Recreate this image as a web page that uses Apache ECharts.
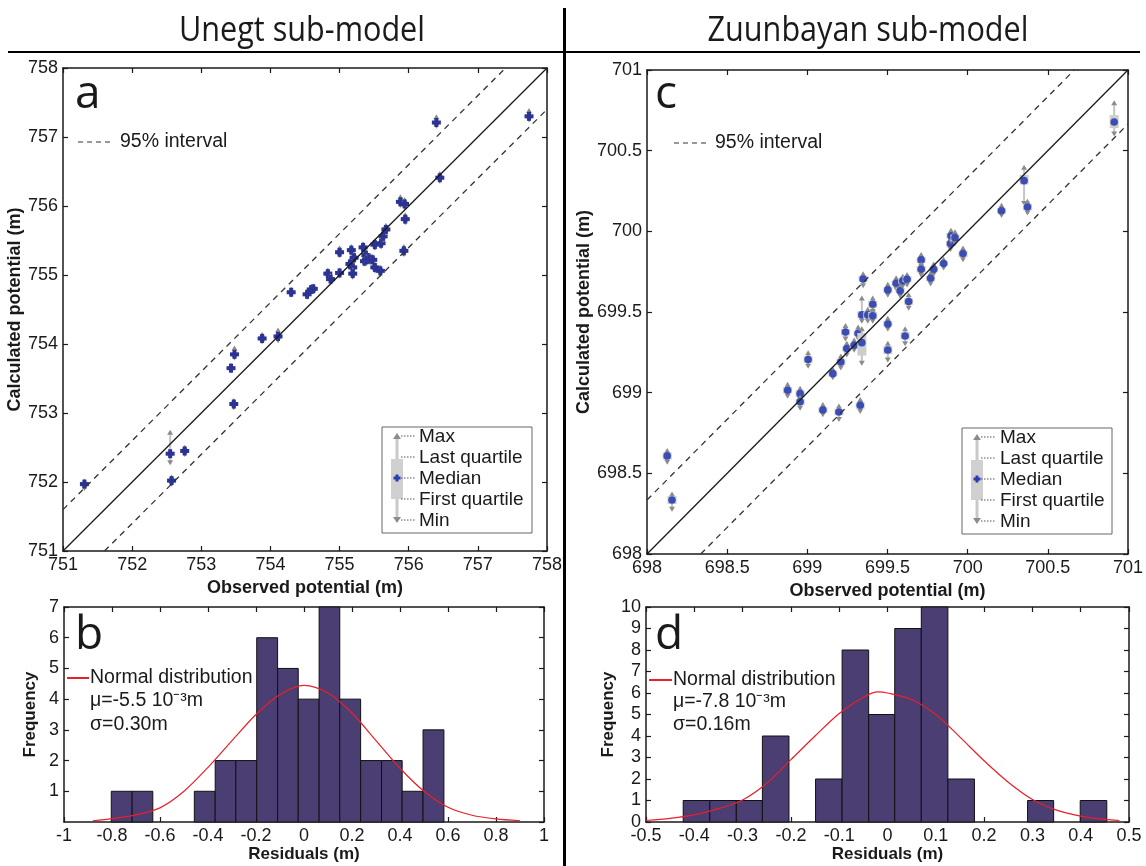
<!DOCTYPE html>
<html lang="en">
<head>
<meta charset="UTF-8">
<title>Unegt / Zuunbayan sub-models</title>
<style>html,body{margin:0;padding:0;background:#fff}</style>
</head>
<body>
<div id="main" style="width:1146px;height:866px"></div>
<script src="https://cdn.jsdelivr.net/npm/echarts@6/dist/echarts.min.js"></script>
<script>
// ---- Unegt sub-model: observed vs calculated (median, min, max) ----
const unegtObs = [751.31, 752.55, 752.57, 752.76, 753.47, 753.43, 753.48, 753.88, 754.11, 754.30,
  754.53, 754.59, 754.62, 754.83, 754.87, 755.00, 755.00, 755.15, 755.17, 755.19,
  755.19, 755.21, 755.34, 755.36, 755.38, 755.39, 755.44, 755.48, 755.51, 755.51,
  755.59, 755.60, 755.63, 755.67, 755.88, 755.94, 755.95, 755.93, 756.45, 756.40, 757.74];
const unegtMed = [751.97, 752.41, 752.02, 752.45, 753.13, 753.65, 753.85, 754.08, 754.11, 754.75,
  754.72, 754.79, 754.80, 755.02, 754.94, 755.33, 755.03, 755.16, 755.36, 755.11,
  755.02, 755.25, 755.40, 755.20, 755.29, 755.22, 755.23, 755.22, 755.44, 755.11,
  755.06, 755.46, 755.56, 755.66, 756.06, 756.03, 755.81, 755.35, 756.41, 757.21, 757.30];
const unegtMin = [751.90, 752.27, 751.96, 752.39, 753.07, 753.60, 753.79, 754.02, 754.04, 754.70,
  754.67, 754.74, 754.75, 754.96, 754.89, 755.27, 754.98, 755.10, 755.30, 755.05,
  754.96, 755.19, 755.34, 755.15, 755.23, 755.16, 755.17, 755.16, 755.38, 755.05,
  755.00, 755.40, 755.50, 755.60, 756.00, 755.97, 755.75, 755.29, 756.35, 757.15, 757.24];
const unegtMax = [752.02, 752.73, 752.08, 752.51, 753.19, 753.70, 753.95, 754.15, 754.21, 754.80,
  754.77, 754.84, 754.85, 755.08, 755.00, 755.40, 755.08, 755.22, 755.42, 755.17,
  755.08, 755.31, 755.46, 755.26, 755.35, 755.28, 755.29, 755.28, 755.50, 755.17,
  755.12, 755.52, 755.62, 755.73, 756.14, 756.10, 755.88, 755.42, 756.48, 757.30, 757.39];
const unegtIdentity = [[751, 751], [758, 758]];
const unegtUpper = [[751, 751.6], [757.4, 758]];
const unegtLower = [[751.6, 751], [758, 757.4]];
const unegtTicks = [751, 752, 753, 754, 755, 756, 757, 758];

// ---- Zuunbayan sub-model ----
const zuunObs = [698.126, 698.156, 698.877, 698.955, 698.955, 699.005, 699.097, 699.159, 699.197, 699.209,
  699.238, 699.246, 699.292, 699.317, 699.330, 699.340, 699.340, 699.348, 699.377, 699.408,
  699.408, 699.502, 699.502, 699.502, 699.554, 699.579, 699.595, 699.610, 699.622, 699.632,
  699.710, 699.710, 699.769, 699.788, 699.850, 699.893, 699.896, 699.921, 699.971, 700.211,
  700.352, 700.373, 700.914];
const zuunMed = [698.608, 698.335, 699.015, 698.994, 698.944, 699.205, 698.893, 699.118, 698.880, 699.190,
  699.376, 699.273, 699.294, 699.368, 698.922, 699.482, 699.310, 699.705, 699.482, 699.548,
  699.476, 699.426, 699.264, 699.637, 699.678, 699.631, 699.693, 699.351, 699.703, 699.565,
  699.823, 699.765, 699.709, 699.765, 699.800, 699.924, 699.973, 699.961, 699.862, 700.128,
  700.314, 700.151, 700.678];
const zuunMin = [698.565, 698.275, 698.975, 698.955, 698.900, 699.160, 698.860, 699.090, 698.830, 699.150,
  699.330, 699.230, 699.260, 699.330, 698.880, 699.440, 699.180, 699.660, 699.440, 699.500,
  699.440, 699.390, 699.200, 699.600, 699.640, 699.595, 699.655, 699.300, 699.665, 699.520,
  699.780, 699.725, 699.670, 699.730, 699.770, 699.885, 699.935, 699.920, 699.820, 700.095,
  700.170, 700.110, 700.600];
const zuunMax = [698.645, 698.375, 699.055, 699.030, 698.975, 699.250, 698.930, 699.150, 698.920, 699.230,
  699.420, 699.310, 699.330, 699.410, 698.960, 699.590, 699.400, 699.740, 699.520, 699.590,
  699.520, 699.465, 699.310, 699.675, 699.715, 699.665, 699.725, 699.400, 699.735, 699.610,
  699.860, 699.800, 699.745, 699.800, 699.830, 699.960, 700.010, 700.000, 699.900, 700.165,
  700.400, 700.190, 700.800];
const zuunQ1 = [698.585, 698.310, 698.995, 698.975, 698.925, 699.185, 698.875, 699.100, 698.860, 699.170,
  699.355, 699.255, 699.275, 699.350, 698.900, 699.460, 699.230, 699.685, 699.460, 699.525,
  699.455, 699.410, 699.240, 699.620, 699.660, 699.615, 699.675, 699.330, 699.685, 699.545,
  699.805, 699.745, 699.690, 699.750, 699.785, 699.905, 699.955, 699.940, 699.840, 700.110,
  700.290, 700.130, 700.640];
const zuunQ3 = [698.630, 698.360, 699.035, 699.015, 698.960, 699.225, 698.910, 699.135, 698.900, 699.210,
  699.395, 699.290, 699.310, 699.385, 698.940, 699.505, 699.370, 699.725, 699.500, 699.570,
  699.500, 699.445, 699.290, 699.655, 699.695, 699.650, 699.710, 699.375, 699.720, 699.585,
  699.840, 699.785, 699.725, 699.780, 699.815, 699.940, 699.990, 699.980, 699.880, 700.145,
  700.350, 700.170, 700.720];
const zuunIdentity = [[698, 698], [701, 701]];
const zuunUpper = [[698, 698.335], [700.665, 701]];
const zuunLower = [[698.335, 698], [701, 700.665]];
const zuunTicks = [698, 698.5, 699, 699.5, 700, 700.5, 701];

// ---- residual histograms ----
const unegtEdges = [-0.803, -0.716, -0.630, -0.543, -0.457, -0.370, -0.284, -0.197, -0.110,
  -0.024, 0.063, 0.149, 0.236, 0.323, 0.409, 0.496, 0.583];
const unegtCounts = [1, 1, 0, 0, 1, 2, 2, 6, 5, 4, 7, 4, 2, 2, 1, 3];
const unegtCurveX = [-0.88, -0.8, -0.7, -0.6, -0.5, -0.4, -0.3, -0.2, -0.1, 0, 0.1, 0.2, 0.3, 0.4, 0.5, 0.6, 0.7, 0.8, 0.9];
const unegtCurveY = [0.04, 0.11, 0.23, 0.46, 1.0, 1.78, 2.65, 3.5, 4.15, 4.45, 4.2, 3.55, 2.65, 1.75, 1.0, 0.48, 0.22, 0.1, 0.04];

const zuunEdges = [-0.423, -0.368, -0.313, -0.259, -0.204, -0.149, -0.094, -0.039, 0.015,
  0.070, 0.125, 0.180, 0.235, 0.290, 0.344, 0.399, 0.454];
const zuunCounts = [1, 1, 1, 4, 0, 2, 8, 5, 9, 10, 2, 0, 0, 1, 0, 1];
const zuunCurveX = [-0.5, -0.45, -0.4, -0.35, -0.3, -0.25, -0.2, -0.15, -0.1, -0.05, -0.02, 0, 0.05, 0.1, 0.15, 0.2, 0.25, 0.3, 0.35, 0.4, 0.45, 0.48];
const zuunCurveY = [0.07, 0.17, 0.33, 0.62, 1.02, 1.8, 2.9, 4.0, 5.05, 5.8, 6.05, 6.0, 5.7, 5.0, 3.95, 2.85, 1.85, 1.05, 0.55, 0.27, 0.12, 0.07];

const unegtResTicks = [-1, -0.8, -0.6, -0.4, -0.2, 0, 0.2, 0.4, 0.6, 0.8, 1];
const unegtFreqTicks = [0, 1, 2, 3, 4, 5, 6, 7];
const zuunResTicks = [-0.5, -0.4, -0.3, -0.2, -0.1, 0, 0.1, 0.2, 0.3, 0.4, 0.5];
const zuunFreqTicks = [0, 1, 2, 3, 4, 5, 6, 7, 8, 9, 10];

const FONT = '"Liberation Sans", Arial, sans-serif';
const INK = '#1a1a1a';

function ax(grid, ticks, interval, position, labels, name, nameGap, nameSize, extra) {
  return Object.assign({
    type: 'value', gridIndex: grid, position: position,
    min: ticks[0], max: ticks[ticks.length - 1], interval: interval,
    axisLine: { show: true, onZero: false, lineStyle: { color: INK, width: 1.5 } },
    axisTick: { show: true, inside: true, length: 5, lineStyle: { color: INK, width: 1.2 } },
    splitLine: { show: false },
    axisLabel: { show: labels, color: INK, fontSize: 18, fontFamily: FONT, margin: 5 },
    name: name || '', nameLocation: 'middle', nameGap: nameGap || 0,
    nameTextStyle: { fontWeight: 'bold', fontSize: nameSize || 17, color: INK, fontFamily: FONT }
  }, extra || {});
}

function pointItem(withBox) {
  return function (params, api) {
    const x = api.value(0);
    const pm = api.coord([x, api.value(1)]);
    const plo = api.coord([x, api.value(2)]);
    const phi = api.coord([x, api.value(3)]);
    const kids = [
      { type: 'line', shape: { x1: phi[0], y1: phi[1], x2: plo[0], y2: plo[1] },
        style: { stroke: '#c4c4c4', lineWidth: 2 } },
      { type: 'polygon', shape: { points: [[phi[0] - 3, phi[1] + 3], [phi[0] + 3, phi[1] + 3], [phi[0], phi[1] - 2]] },
        style: { fill: '#8c8c8c' } },
      { type: 'polygon', shape: { points: [[plo[0] - 3, plo[1] - 3], [plo[0] + 3, plo[1] - 3], [plo[0], plo[1] + 2]] },
        style: { fill: '#8c8c8c' } }
    ];
    if (withBox) {
      const p1 = api.coord([x, api.value(4)]);
      const p3 = api.coord([x, api.value(5)]);
      kids.push({ type: 'rect', shape: { x: pm[0] - 4.5, y: p3[1], width: 9, height: p1[1] - p3[1] },
        style: { fill: '#cdcdcd' } });
      kids.push({ type: 'circle', shape: { cx: pm[0], cy: pm[1], r: 3.8 }, style: { fill: '#3a4db4' } });
    } else {
      kids.push({ type: 'rect', shape: { x: pm[0] - 4.5, y: pm[1] - 2, width: 9, height: 4 }, style: { fill: '#2b3394' } });
      kids.push({ type: 'rect', shape: { x: pm[0] - 2, y: pm[1] - 4.5, width: 4, height: 9 }, style: { fill: '#2b3394' } });
    }
    return { type: 'group', children: kids };
  };
}

function barItem(params, api) {
  const c = api.value(2);
  if (!c) return null;
  const a = api.coord([api.value(0), c]);
  const b = api.coord([api.value(1), 0]);
  return { type: 'rect', shape: { x: a[0], y: a[1], width: b[0] - a[0], height: b[1] - a[1] },
    style: { fill: '#4a3e72', stroke: '#111', lineWidth: 1 } };
}

const unegtPts = unegtObs.map((v, i) => [v, unegtMed[i], unegtMin[i], unegtMax[i]]);
const zuunPts = zuunObs.map((v, i) => [v, zuunMed[i], zuunMin[i], zuunMax[i], zuunQ1[i], zuunQ3[i]]);
const unegtBins = unegtCounts.map((c, i) => [unegtEdges[i], unegtEdges[i + 1], c]);
const zuunBins = zuunCounts.map((c, i) => [zuunEdges[i], zuunEdges[i + 1], c]);

const dashed = { color: '#333', width: 1.3, type: [6, 5] };

function legendBox(x0, y0, sx, tx) {
  const rows = ['Max', 'Last quartile', 'Median', 'First quartile', 'Min'];
  const ys = [y0 + 9, y0 + 30, y0 + 51, y0 + 72, y0 + 93];
  const els = [
    { type: 'rect', shape: { x: x0, y: y0, width: 150, height: 106 }, style: { fill: '#fff', stroke: '#666', lineWidth: 1 } },
    { type: 'line', shape: { x1: sx, y1: ys[0], x2: sx, y2: ys[4] }, style: { stroke: '#c8c8c8', lineWidth: 3 } },
    { type: 'rect', shape: { x: sx - 6, y: ys[1] + 2, width: 12, height: ys[3] - ys[1] - 2 }, style: { fill: '#d0d0d0' } },
    { type: 'polygon', shape: { points: [[sx - 4, ys[0] + 3], [sx + 4, ys[0] + 3], [sx, ys[0] - 3]] }, style: { fill: '#8c8c8c' } },
    { type: 'polygon', shape: { points: [[sx - 4, ys[4] - 3], [sx + 4, ys[4] - 3], [sx, ys[4] + 3]] }, style: { fill: '#8c8c8c' } },
    { type: 'rect', shape: { x: sx - 3.5, y: ys[2] - 1.5, width: 7, height: 3 }, style: { fill: '#2b3cae' } },
    { type: 'rect', shape: { x: sx - 1.5, y: ys[2] - 3.5, width: 3, height: 7 }, style: { fill: '#2b3cae' } }
  ];
  rows.forEach((r, i) => {
    els.push({ type: 'line', shape: { x1: sx + 4, y1: ys[i], x2: tx - 4, y2: ys[i] },
      style: { stroke: '#555', lineWidth: 1, lineDash: [1.5, 1.5] } });
    els.push({ type: 'text', x: tx, y: ys[i] + 1, style: { text: r, font: '19px ' + FONT, fill: INK, verticalAlign: 'middle', align: 'left' } });
  });
  return els;
}

function txt(x, y, s, font, extra) {
  return Object.assign({ type: 'text', x: x, y: y, style: { text: s, font: font, fill: INK, verticalAlign: 'middle', align: 'left' } }, extra || {});
}

const chart = echarts.init(document.getElementById('main'));

const option = {
  animation: false,
  backgroundColor: '#fff',
  grid: [
    { left: 63, top: 68, width: 484, height: 483 },
    { left: 647, top: 70, width: 482, height: 484 },
    { left: 64, top: 607, width: 480, height: 215 },
    { left: 646, top: 607, width: 483, height: 215 }
  ],
  xAxis: [
    ax(0, unegtTicks, 1, 'bottom', true, 'Observed potential (m)', 22, 18),
    ax(0, unegtTicks, 1, 'top', false),
    ax(1, zuunTicks, 0.5, 'bottom', true, 'Observed potential (m)', 20, 18),
    ax(1, zuunTicks, 0.5, 'top', false),
    ax(2, unegtResTicks, 0.2, 'bottom', true, 'Residuals (m)', 22),
    ax(2, unegtResTicks, 0.2, 'top', false),
    ax(3, zuunResTicks, 0.1, 'bottom', true, 'Residuals (m)', 22),
    ax(3, zuunResTicks, 0.1, 'top', false)
  ],
  yAxis: [
    ax(0, unegtTicks, 1, 'left', true, 'Calculated potential (m)', 28, 18),
    ax(0, unegtTicks, 1, 'right', false),
    ax(1, zuunTicks, 0.5, 'left', true, 'Calculated potential (m)', 40, 18),
    ax(1, zuunTicks, 0.5, 'right', false),
    ax(2, unegtFreqTicks, 1, 'left', true, 'Frequency', 25, 17,
      { axisLabel: { color: INK, fontSize: 18, fontFamily: FONT, margin: 5, showMinLabel: false } }),
    ax(2, unegtFreqTicks, 1, 'right', false),
    ax(3, zuunFreqTicks, 1, 'left', true, 'Frequency', 29),
    ax(3, zuunFreqTicks, 1, 'right', false)
  ],
  series: [
    { type: 'line', xAxisIndex: 0, yAxisIndex: 0, data: unegtIdentity, showSymbol: false, lineStyle: { color: INK, width: 1.3 } },
    { type: 'line', xAxisIndex: 0, yAxisIndex: 0, data: unegtUpper, showSymbol: false, lineStyle: dashed },
    { type: 'line', xAxisIndex: 0, yAxisIndex: 0, data: unegtLower, showSymbol: false, lineStyle: dashed },
    { type: 'custom', xAxisIndex: 0, yAxisIndex: 0, data: unegtPts, renderItem: pointItem(false), encode: { x: 0, y: 1 }, clip: true },

    { type: 'line', xAxisIndex: 2, yAxisIndex: 2, data: zuunIdentity, showSymbol: false, lineStyle: { color: INK, width: 1.3 } },
    { type: 'line', xAxisIndex: 2, yAxisIndex: 2, data: zuunUpper, showSymbol: false, lineStyle: dashed },
    { type: 'line', xAxisIndex: 2, yAxisIndex: 2, data: zuunLower, showSymbol: false, lineStyle: dashed },
    { type: 'custom', xAxisIndex: 2, yAxisIndex: 2, data: zuunPts, renderItem: pointItem(true), encode: { x: 0, y: 1 }, clip: true },

    { type: 'custom', xAxisIndex: 4, yAxisIndex: 4, data: unegtBins, renderItem: barItem, encode: { x: [0, 1], y: 2 } },
    { type: 'line', xAxisIndex: 4, yAxisIndex: 4, data: unegtCurveX.map((x, i) => [x, unegtCurveY[i]]),
      smooth: 0.3, showSymbol: false, lineStyle: { color: '#e8202a', width: 1.2 } },

    { type: 'custom', xAxisIndex: 6, yAxisIndex: 6, data: zuunBins, renderItem: barItem, encode: { x: [0, 1], y: 2 } },
    { type: 'line', xAxisIndex: 6, yAxisIndex: 6, data: zuunCurveX.map((x, i) => [x, zuunCurveY[i]]),
      smooth: 0.3, showSymbol: false, lineStyle: { color: '#e8202a', width: 1.2 } }
  ],
  graphic: { elements: [
    { type: 'line', shape: { x1: 8, y1: 52, x2: 1140, y2: 52 }, style: { stroke: '#000', lineWidth: 2 } },
    { type: 'line', shape: { x1: 564.5, y1: 8, x2: 564.5, y2: 866 }, style: { stroke: '#000', lineWidth: 3 } },
    { type: 'text', x: 302, y: 31, scaleX: 0.9, originX: 0,
      style: { text: 'Unegt sub-model', font: '34px "Open Sans", sans-serif', fill: INK, align: 'center', verticalAlign: 'middle' } },
    { type: 'text', x: 868, y: 31, scaleX: 0.9, originX: 0,
      style: { text: 'Zuunbayan sub-model', font: '34px "Open Sans", sans-serif', fill: INK, align: 'center', verticalAlign: 'middle' } },

    txt(75, 95, 'a', '46px "Open Sans", sans-serif'),
    txt(655, 95, 'c', '46px "Open Sans", sans-serif'),
    txt(75, 636, 'b', '46px "Open Sans", sans-serif'),
    txt(655, 636, 'd', '46px "Open Sans", sans-serif'),

    { type: 'line', shape: { x1: 78, y1: 142, x2: 113, y2: 142 }, style: { stroke: '#333', lineWidth: 1.2, lineDash: [5, 4] } },
    txt(120, 142, '95% interval', '19.5px ' + FONT),
    { type: 'line', shape: { x1: 674, y1: 143, x2: 708, y2: 143 }, style: { stroke: '#333', lineWidth: 1.2, lineDash: [5, 4] } },
    txt(715, 143, '95% interval', '19.5px ' + FONT),

    ...legendBox(382, 427, 397, 419),
    ...legendBox(962, 428, 977, 1000),

    { type: 'line', shape: { x1: 67, y1: 678, x2: 89, y2: 678 }, style: { stroke: '#e8202a', lineWidth: 2 } },
    txt(90, 678, 'Normal distribution', '19.5px ' + FONT),
    txt(90, 701, 'μ=-5.5 10⁻³m', '19.5px ' + FONT),
    txt(90, 725, 'σ=0.30m', '19.5px ' + FONT),
    { type: 'line', shape: { x1: 649, y1: 680, x2: 672, y2: 680 }, style: { stroke: '#e8202a', lineWidth: 2 } },
    txt(673, 680, 'Normal distribution', '19.5px ' + FONT),
    txt(673, 702, 'μ=-7.8 10⁻³m', '19.5px ' + FONT),
    txt(673, 725, 'σ=0.16m', '19.5px ' + FONT)
  ] }
};

chart.setOption(option);
</script>
</body>
</html>
